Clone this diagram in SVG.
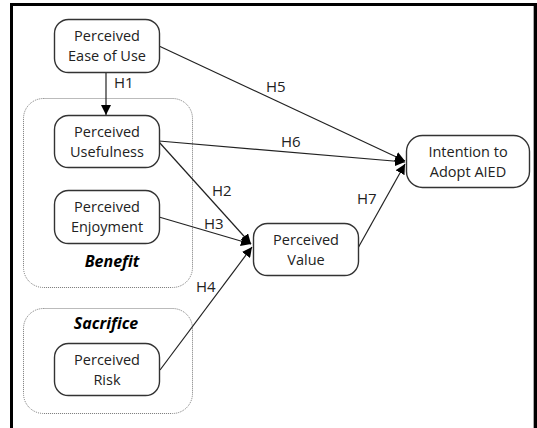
<svg xmlns="http://www.w3.org/2000/svg" width="537" height="428" viewBox="0 0 537 428">
<defs>
<style>
.frame{fill:none;stroke:#000;stroke-width:3}
.node rect{fill:#fff;stroke:#333;stroke-width:1.4}
.grp{fill:none;stroke:#777;stroke-width:1;stroke-dasharray:1 1}
.t{font-family:"Open Sans","Noto Sans",sans-serif;font-size:14.5px;fill:#222;text-anchor:middle}
.lbl{font-family:"Open Sans","Noto Sans",sans-serif;font-size:15px;fill:#222}
.gl{font-family:"Open Sans","Noto Sans",sans-serif;font-size:16px;font-weight:bold;font-style:italic;fill:#000;text-anchor:middle}
.c line{stroke:#222;stroke-width:1.2}
</style>
<marker id="ah" viewBox="0 0 10 10" refX="10" refY="5" markerWidth="10" markerHeight="10" markerUnits="userSpaceOnUse" orient="auto">
<path d="M0,0 L10,5 L0,10 z" fill="#000"/>
</marker>
</defs>
<rect width="537" height="428" fill="#fff"/>
<path class="frame" d="M11.5,430 V4.5 H535.5 V430"/>
<line x1="533.5" y1="6" x2="533.5" y2="428" stroke="#aaa" stroke-width="1"/>

<g id="benefit">
<rect class="grp" x="23.5" y="98.5" width="169" height="189" rx="20"/>
<text class="gl" x="112" y="267">Benefit</text>
</g>
<g id="sacrifice">
<rect class="grp" x="23.5" y="308.5" width="169" height="105" rx="20"/>
<text class="gl" x="106" y="329">Sacrifice</text>
</g>

<g class="c" id="connectors">
<line x1="106" y1="72" x2="106" y2="115" marker-end="url(#ah)"/>
<line x1="159" y1="46" x2="405" y2="161" marker-end="url(#ah)"/>
<line x1="159" y1="141" x2="405" y2="162" marker-end="url(#ah)"/>
<line x1="159" y1="142" x2="251" y2="244" marker-end="url(#ah)"/>
<line x1="159" y1="217" x2="251" y2="244" marker-end="url(#ah)"/>
<line x1="160" y1="370" x2="252" y2="247" marker-end="url(#ah)"/>
<line x1="358" y1="248" x2="405" y2="164" marker-end="url(#ah)"/>
<text class="lbl" x="114" y="88">H1</text>
<text class="lbl" x="266" y="92">H5</text>
<text class="lbl" x="281" y="147">H6</text>
<text class="lbl" x="212" y="196">H2</text>
<text class="lbl" x="204" y="229">H3</text>
<text class="lbl" x="196" y="292">H4</text>
<text class="lbl" x="357" y="204">H7</text>
</g>

<g id="peou" class="node">
<rect x="54.5" y="19.5" width="105" height="53" rx="14"/>
<text class="t" x="107" y="41.3">Perceived<tspan x="107" dy="19.9">Ease of Use</tspan></text>
</g>
<g id="pu" class="node">
<rect x="54.5" y="115.5" width="105" height="52" rx="14"/>
<text class="t" x="107" y="136.8">Perceived<tspan x="107" dy="19.9">Usefulness</tspan></text>
</g>
<g id="pe" class="node">
<rect x="54.5" y="190.5" width="105" height="53" rx="14"/>
<text class="t" x="107" y="212.3">Perceived<tspan x="107" dy="19.9">Enjoyment</tspan></text>
</g>
<g id="pr" class="node">
<rect x="54.5" y="343.5" width="105" height="52" rx="14"/>
<text class="t" x="107" y="364.8">Perceived<tspan x="107" dy="19.9">Risk</tspan></text>
</g>
<g id="pv" class="node">
<rect x="253.5" y="223.5" width="105" height="52" rx="14"/>
<text class="t" x="306" y="244.8">Perceived<tspan x="306" dy="19.9">Value</tspan></text>
</g>
<g id="ita" class="node">
<rect x="406.5" y="135.5" width="123" height="52" rx="16"/>
<text class="t" x="468" y="156.8">Intention to<tspan x="468" dy="19.9">Adopt AIED</tspan></text>
</g>
</svg>
